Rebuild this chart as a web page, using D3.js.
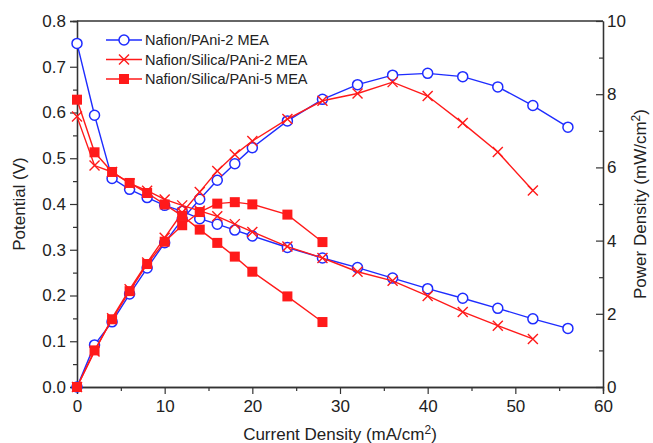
<!DOCTYPE html>
<html>
<head>
<meta charset="utf-8">
<script src="https://cdn.jsdelivr.net/npm/d3@7"></script>
<style>
  body { margin: 0; background: #fff; }
  svg text { font-family: "Liberation Sans", Arial, sans-serif; fill: #222; }
</style>
</head>
<body>
<div id="chart"></div>
<script>
// Data
const seriesNames = ["Nafion/PAni-2 MEA", "Nafion/Silica/PAni-2 MEA", "Nafion/Silica/PAni-5 MEA"];

const current1 = [0, 2, 4, 6, 8, 10, 12, 14, 16, 18, 20, 24, 28, 32, 36, 40, 44, 48, 52, 56];
const potential1 = [0.751, 0.594, 0.456, 0.432, 0.414, 0.397, 0.384, 0.368, 0.356, 0.343, 0.330, 0.305, 0.282, 0.261, 0.238, 0.215, 0.194, 0.172, 0.149, 0.128];
const power1 = [0, 1.15, 1.78, 2.54, 3.25, 3.94, 4.58, 5.13, 5.65, 6.10, 6.54, 7.27, 7.86, 8.26, 8.52, 8.57, 8.48, 8.20, 7.69, 7.10];

const current2 = [0, 2, 4, 6, 8, 10, 12, 14, 16, 18, 20, 24, 28, 32, 36, 40, 44, 48, 52];
const potential2 = [0.591, 0.484, 0.470, 0.445, 0.429, 0.410, 0.397, 0.385, 0.373, 0.356, 0.339, 0.307, 0.282, 0.252, 0.232, 0.199, 0.164, 0.134, 0.105];
const power2 = [0, 0.97, 1.88, 2.67, 3.40, 4.08, 4.76, 5.33, 5.90, 6.35, 6.72, 7.32, 7.82, 8.02, 8.33, 7.95, 7.21, 6.42, 5.37];

const current3 = [0, 2, 4, 6, 8, 10, 12, 14, 16, 18, 20, 24, 28];
const potential3 = [0.628, 0.513, 0.470, 0.446, 0.424, 0.399, 0.374, 0.344, 0.315, 0.285, 0.252, 0.198, 0.142];
const power3 = [0, 1.00, 1.85, 2.62, 3.36, 3.97, 4.42, 4.78, 5.01, 5.05, 4.99, 4.71, 3.96];

const xTicks = [0, 10, 20, 30, 40, 50, 60];
const yTicks = [0.0, 0.1, 0.2, 0.3, 0.4, 0.5, 0.6, 0.7, 0.8];
const y2Ticks = [0, 2, 4, 6, 8, 10];

// Layout
const W = 653, H = 443;
const margin = { top: 21, right: 50, bottom: 56, left: 77 };
const width = 603 - margin.left, height = 387 - margin.top;

const svg = d3.select("#chart").append("svg")
  .attr("width", W).attr("height", H);
const g = svg.append("g").attr("transform", `translate(${margin.left},${margin.top})`);

const x = d3.scaleLinear().domain([0, 60]).range([0, width]);
const y = d3.scaleLinear().domain([0, 0.8]).range([height, 0]);
const y2 = d3.scaleLinear().domain([0, 10]).range([height, 0]);

const axisColor = "#333";
const fontSize = 17;

// frame top line
g.append("line").attr("x1", 0).attr("x2", width).attr("y1", 0).attr("y2", 0)
  .attr("stroke", axisColor).attr("stroke-width", 1.3);

function styleAxis(sel) {
  sel.select(".domain").attr("stroke", axisColor).attr("stroke-width", 1.3);
  sel.selectAll(".tick line").attr("stroke", axisColor).attr("stroke-width", 1.2);
  sel.selectAll("text").style("font-size", fontSize + "px").attr("fill", "#222");
}

// minor ticks first
g.append("g").attr("transform", `translate(0,${height})`)
  .call(d3.axisBottom(x).tickValues(d3.range(5, 60, 10)).tickSize(4).tickFormat(""))
  .call(styleAxis);
g.append("g")
  .call(d3.axisLeft(y).tickValues(d3.range(0.05, 0.8, 0.1)).tickSize(4).tickFormat(""))
  .call(styleAxis);
g.append("g").attr("transform", `translate(${width},0)`)
  .call(d3.axisRight(y2).tickValues([1, 3, 5, 7, 9]).tickSizeInner(-4).tickSizeOuter(0).tickFormat(""))
  .call(styleAxis);

// major ticks
g.append("g").attr("transform", `translate(0,${height})`)
  .call(d3.axisBottom(x).tickValues(xTicks).tickSize(7).tickPadding(6).tickFormat(d3.format("d")))
  .call(styleAxis);
g.append("g")
  .call(d3.axisLeft(y).tickValues(yTicks).tickSize(7).tickPadding(4).tickFormat(d3.format(".1f")))
  .call(styleAxis);
g.append("g").attr("transform", `translate(${width},0)`)
  .call(d3.axisRight(y2).tickValues(y2Ticks).tickSizeInner(-7).tickSizeOuter(0).tickPadding(4).tickFormat(d3.format("d")))
  .call(styleAxis);

// axis titles
svg.append("text").attr("x", 340).attr("y", 440).attr("text-anchor", "middle")
  .style("font-size", fontSize + "px")
  .html('Current Density (mA/cm<tspan dy="-6" style="font-size:12px">2</tspan><tspan dy="6">)</tspan>');
svg.append("text").attr("transform", "translate(25,204) rotate(-90)").attr("text-anchor", "middle")
  .style("font-size", fontSize + "px").text("Potential (V)");
svg.append("text").attr("transform", "translate(646,204) rotate(-90)").attr("text-anchor", "middle")
  .style("font-size", fontSize + "px")
  .html('Power Density (mW/cm<tspan dy="-6" style="font-size:12px">2</tspan><tspan dy="6">)</tspan>');

const blue = "#1e2cff", red = "#ff1a1a";
const series = [
  { name: seriesNames[0], cur: current1, v: potential1, p: power1, color: blue, marker: "circle" },
  { name: seriesNames[1], cur: current2, v: potential2, p: power2, color: red, marker: "cross" },
  { name: seriesNames[2], cur: current3, v: potential3, p: power3, color: red, marker: "square" }
];

function drawMarker(sel, type, color) {
  if (type === "circle") {
    sel.append("circle").attr("r", 5).attr("fill", "#fff").attr("stroke", color).attr("stroke-width", 1.5);
  } else if (type === "cross") {
    sel.append("path").attr("d", "M-5,-5L5,5M-5,5L5,-5").attr("stroke", color).attr("stroke-width", 1.4).attr("fill", "none");
  } else {
    sel.append("rect").attr("x", -5).attr("y", -5).attr("width", 10).attr("height", 10).attr("fill", color);
  }
}

const plot = g.append("g");
series.forEach(s => {
  const vPts = s.cur.map((c, i) => [c, s.v[i]]);
  const pPts = s.cur.map((c, i) => [c, s.p[i]]);
  const lineV = d3.line().x(d => x(d[0])).y(d => y(d[1]));
  const lineP = d3.line().x(d => x(d[0])).y(d => y2(d[1]));
  plot.append("path").attr("d", lineV(vPts)).attr("fill", "none").attr("stroke", s.color).attr("stroke-width", 1.4);
  plot.append("path").attr("d", lineP(pPts)).attr("fill", "none").attr("stroke", s.color).attr("stroke-width", 1.4);
  plot.selectAll(null).data(vPts).join("g")
    .attr("transform", d => `translate(${x(d[0])},${y(d[1])})`)
    .each(function () { drawMarker(d3.select(this), s.marker, s.color); });
  plot.selectAll(null).data(pPts).join("g")
    .attr("transform", d => `translate(${x(d[0])},${y2(d[1])})`)
    .each(function () { drawMarker(d3.select(this), s.marker, s.color); });
});

// legend
const legend = svg.append("g").attr("transform", "translate(106,40)");
series.forEach((s, i) => {
  const row = legend.append("g").attr("transform", `translate(0,${i * 19.5})`);
  row.append("line").attr("x1", 0).attr("x2", 36).attr("stroke", s.color).attr("stroke-width", 1.4);
  const m = row.append("g").attr("transform", "translate(18,0)");
  drawMarker(m, s.marker, s.color);
  row.append("text").attr("x", 39).attr("dy", "0.35em").style("font-size", "14.5px").text(s.name);
});
</script>
</body>
</html>
